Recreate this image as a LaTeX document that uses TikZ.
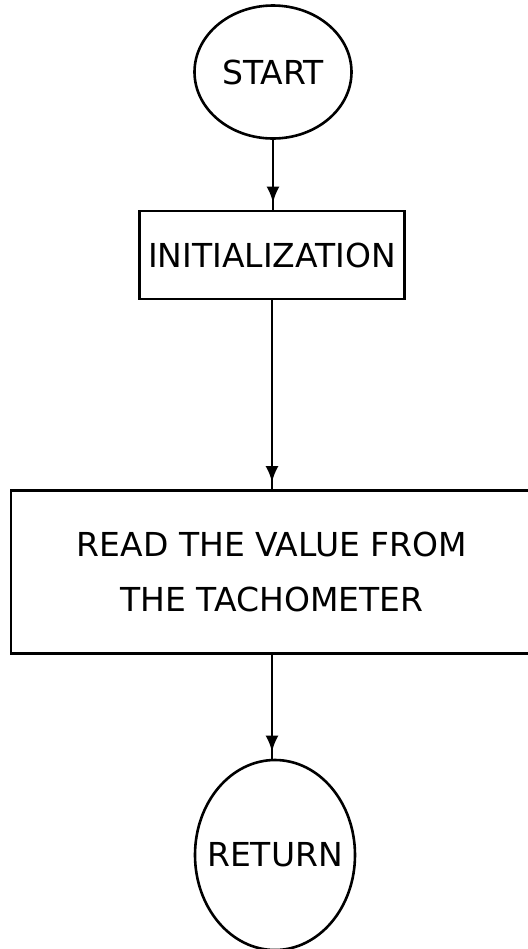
\documentclass[tikz,border=0pt]{standalone}
\usepackage{fontspec}
\setmainfont{DejaVu Sans}
\usetikzlibrary{arrows.meta,decorations.markings,shapes.geometric}
\begin{document}
\begin{tikzpicture}[x=0.5pt,y=-0.5pt,
  line width=1.3pt,
  textfont/.style={font=\fontsize{16.5}{27.5}\selectfont},
  terminal/.style={draw,ellipse,inner sep=0pt,textfont},
  process/.style={draw,rectangle,inner sep=0pt,align=center,textfont},
  flow/.style={postaction={decorate},decoration={markings,
     mark=at position -3.5pt with {\arrow{Latex[length=8pt,width=6.5pt]}}}}]
  \useasboundingbox (0,0) rectangle (528,949);
  \clip (0,0) rectangle (528,949);

  % terminals and process boxes (terminal text may touch the outline)
  \node[terminal,minimum width=157*0.5pt,minimum height=133*0.5pt] (start) at (273,72)
    {\makebox[0pt]{START}};
  \node[process,minimum width=265*0.5pt,minimum height=88*0.5pt] (init) at (272,255) {INITIALIZATION};
  \node[process,minimum width=522*0.5pt,minimum height=163*0.5pt] (read) at (272,572)
    {READ THE VALUE FROM\\THE TACHOMETER};
  \node[terminal,minimum width=160*0.5pt,minimum height=190*0.5pt] (ret) at (275,855)
    {\makebox[0pt]{RETURN}};

  % connectors
  \draw[flow] (start.south) -- (init.north -| start.south);
  \draw[flow] (init.south) -- (read.north -| init.south);
  \draw[flow] (read.south -| init.south) -- (ret.north -| init.south);
\end{tikzpicture}
\end{document}
